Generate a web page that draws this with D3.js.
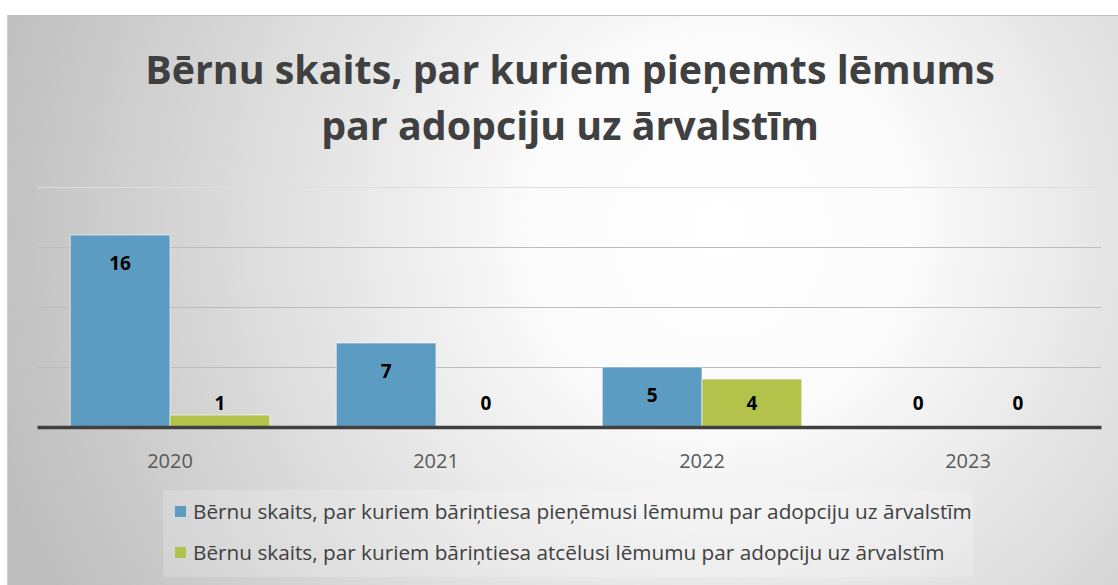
<!DOCTYPE html>
<html>
<head>
<meta charset="utf-8">
<script src="https://cdn.jsdelivr.net/npm/d3@7/dist/d3.min.js"></script>
<style>
  body { margin: 0; background: #fff; }
  text { font-family: "Open Sans", "Noto Sans", sans-serif; }
</style>
</head>
<body>
<div id="chart"></div>
<script>
var years = ["2020", "2021", "2022", "2023"];
var seriesNames = [
    "Bērnu skaits, par kuriem bāriņtiesa pieņēmusi lēmumu par adopciju uz ārvalstīm",
    "Bērnu skaits, par kuriem bāriņtiesa atcēlusi lēmumu par adopciju uz ārvalstīm"
];
var accepted = [16, 7, 5, 0];
var cancelled = [1, 0, 4, 0];
var seriesColors = ["#5d9cc2", "#b3c24b"];
var titleLines = ["Bērnu skaits, par kuriem pieņemts lēmums", "par adopciju uz ārvalstīm"];
var gridTicks = [0, 5, 10, 15, 20];

var width = 1118, height = 585;
var margin = { top: 187, right: 17, bottom: 158, left: 37 };

var svg = d3.select("#chart").append("svg")
    .attr("width", width)
    .attr("height", height);

var defs = svg.append("defs");
var grad = defs.append("radialGradient")
    .attr("id", "bg")
    .attr("gradientUnits", "userSpaceOnUse")
    .attr("cx", 720).attr("cy", 230).attr("r", 760);
grad.append("stop").attr("offset", "0%").attr("stop-color", "#ffffff");
grad.append("stop").attr("offset", "25%").attr("stop-color", "#fbfbfb");
grad.append("stop").attr("offset", "100%").attr("stop-color", "#bdbdbd");

// chart area
svg.append("rect")
    .attr("x", 7).attr("y", 15)
    .attr("width", width - 7).attr("height", height - 15)
    .attr("fill", "url(#bg)");
svg.append("line")
    .attr("x1", 7).attr("x2", width).attr("y1", 15.5).attr("y2", 15.5)
    .attr("stroke", "#bfbfbf");
svg.append("line")
    .attr("x1", 7.5).attr("x2", 7.5).attr("y1", 15).attr("y2", height)
    .attr("stroke", "#d0d0d0");

// title
var title = svg.append("text")
    .attr("text-anchor", "middle")
    .attr("font-weight", "bold")
    .attr("fill", "#404040");
titleLines.forEach(function(t, i) {
    title.append("tspan")
        .attr("x", 570)
        .attr("y", 84 + i * 56)
        .text(t);
});
// fit line 1 width to ~850px
title.attr("font-size", 40);
var w0 = title.select("tspan").node().getComputedTextLength();
title.attr("font-size", 40 * 850 / w0);

var x0 = d3.scaleBand()
    .domain(years)
    .range([margin.left, width - margin.right])
    .paddingInner(0.25)
    .paddingOuter(0.125);
var x1 = d3.scaleBand()
    .domain([0, 1])
    .range([0, x0.bandwidth()]);
var y = d3.scaleLinear()
    .domain([0, 20])
    .range([height - margin.bottom, margin.top]);

// gridlines
svg.append("g")
    .selectAll("line")
    .data(gridTicks.slice(1))
    .enter().append("line")
    .attr("x1", margin.left).attr("x2", width - margin.right)
    .attr("y1", function(d) { return Math.round(y(d)) + 0.5; })
    .attr("y2", function(d) { return Math.round(y(d)) + 0.5; })
    .attr("stroke", function(d) { return d === 20 ? "#dedede" : "#bcbcbc"; })
    .attr("stroke-width", 1.2);

var series = [accepted, cancelled];
var barG = svg.append("g");
series.forEach(function(vals, s) {
    barG.selectAll(".bar" + s)
        .data(vals)
        .enter().append("rect")
        .attr("x", function(d, i) { return x0(years[i]) + x1(s); })
        .attr("y", function(d) { return y(d); })
        .attr("width", x1.bandwidth())
        .attr("height", function(d) { return y(0) - y(d); })
        .attr("fill", seriesColors[s])
        .attr("stroke", function(d) { return d > 0 ? "rgba(255,255,255,0.6)" : "none"; })
        .attr("stroke-width", 1);

    barG.selectAll(".lbl" + s)
        .data(vals)
        .enter().append("text")
        .attr("x", function(d, i) { return x0(years[i]) + x1(s) + x1.bandwidth() / 2; })
        .attr("y", function(d) { return Math.min(y(d) + 28, y(0) - 24); })
        .attr("dy", "0.35em")
        .attr("text-anchor", "middle")
        .attr("font-size", 19)
        .attr("font-weight", "bold")
        .attr("fill", "#000")
        .text(function(d) { return d; });
});

// x axis
var xAxis = svg.append("g")
    .attr("transform", "translate(0," + y(0) + ")")
    .call(d3.axisBottom(x0).tickSize(0).tickPadding(0));
xAxis.select(".domain")
    .attr("stroke", "#404040")
    .attr("stroke-width", 3.5);
xAxis.selectAll("text")
    .attr("y", 27)
    .attr("font-size", 20)
    .attr("font-family", "Open Sans, sans-serif")
    .attr("fill", "#595959");

// legend
svg.append("rect")
    .attr("x", 163).attr("y", 490)
    .attr("width", 810).attr("height", 87)
    .attr("fill", "rgba(255,255,255,0.2)");
var legend = svg.append("g");
seriesNames.forEach(function(name, i) {
    var ly = 512 + i * 41;
    legend.append("rect")
        .attr("x", 175).attr("y", ly - 6)
        .attr("width", 11).attr("height", 11)
        .attr("fill", seriesColors[i]);
    legend.append("text")
        .attr("x", 193).attr("y", ly)
        .attr("dy", "0.35em")
        .attr("font-size", 17)
        .attr("fill", "#404040")
        .attr("class", "legtxt")
        .text(name);
});
var lw = legend.select(".legtxt").node().getComputedTextLength();
legend.selectAll(".legtxt").attr("font-size", 17 * 779 / lw);
</script>
</body>
</html>
